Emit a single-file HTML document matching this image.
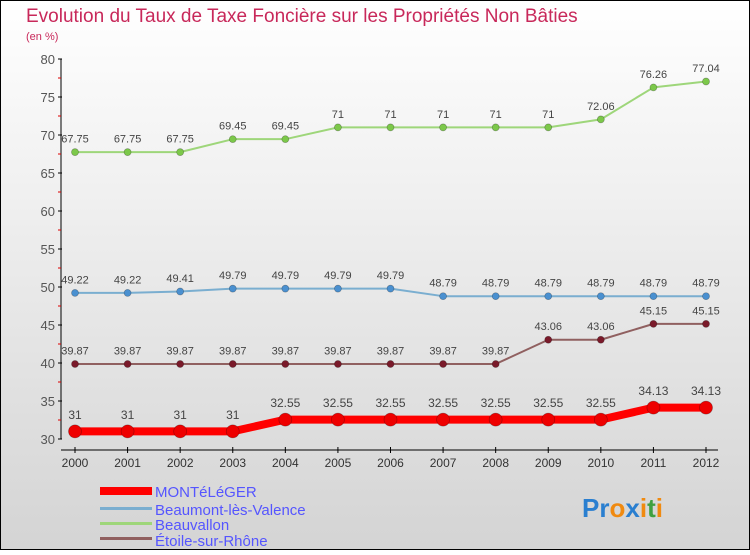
<!DOCTYPE html>
<html><head><meta charset="utf-8"><style>
html,body{margin:0;padding:0}
body{width:750px;height:550px;overflow:hidden;font-family:"Liberation Sans",sans-serif}
</style></head><body>
<svg width="750" height="550" xmlns="http://www.w3.org/2000/svg">
<defs><linearGradient id="bg" x1="0" y1="0" x2="0" y2="1"><stop offset="0" stop-color="#ffffff"/><stop offset="1" stop-color="#d4d4d4"/></linearGradient></defs>
<rect x="0.5" y="0.5" width="749" height="549" fill="url(#bg)" stroke="#000"/>
<text x="26" y="22" font-size="19" fill="#c8285a">Evolution du Taux de Taxe Foncière sur les Propriétés Non Bâties</text>
<text x="26" y="40" font-size="11" fill="#c8285a">(en %)</text>
<g id="axes"></g><g id="series"></g>
<g>
<rect x="100" y="487" width="52" height="8" fill="#ff0000"/><text x="155" y="497" font-size="15" fill="#5555ff">MONTéLéGER</text>
<rect x="100" y="507" width="52" height="3" fill="#7aaed0"/><text x="155" y="515" font-size="15" fill="#5555ff">Beaumont-lès-Valence</text>
<rect x="100" y="522" width="52" height="3" fill="#9ed67a"/><text x="155" y="530" font-size="15" fill="#5555ff">Beauvallon</text>
<rect x="100" y="537" width="52" height="3" fill="#906060"/><text x="155" y="546" font-size="15" fill="#5555ff">Étoile-sur-Rhône</text>
</g>
<g font-size="26" font-weight="bold">
<text x="582" y="517"><tspan fill="#2a7fd0">Pr</tspan><tspan fill="#f08a10">o</tspan><tspan fill="#2a7fd0">x</tspan><tspan fill="#f08a10">i</tspan><tspan fill="#40a040">t</tspan><tspan fill="#f08a10">i</tspan></text>
</g>
</svg>
<script>
const years=[2000,2001,2002,2003,2004,2005,2006,2007,2008,2009,2010,2011,2012];
const yTicks=[30,35,40,45,50,55,60,65,70,75,80];
const montelegerVals=[31,31,31,31,32.55,32.55,32.55,32.55,32.55,32.55,32.55,34.13,34.13];
const beaumontVals=[49.22,49.22,49.41,49.79,49.79,49.79,49.79,48.79,48.79,48.79,48.79,48.79,48.79];
const beauvallonVals=[67.75,67.75,67.75,69.45,69.45,71,71,71,71,71,72.06,76.26,77.04];
const etoileVals=[39.87,39.87,39.87,39.87,39.87,39.87,39.87,39.87,39.87,43.06,43.06,45.15,45.15];
const NS="http://www.w3.org/2000/svg";
const x=i=>75+i*(706-75)/12;
const y=v=>439-(v-30)*(380/50);
function mk(t,a,p){const e=document.createElementNS(NS,t);for(const k in a)e.setAttribute(k,a[k]);p.appendChild(e);return e;}
const ax=document.getElementById('axes');
mk('line',{x1:61,y1:y(80),x2:61,y2:y(30),stroke:'#000'},ax);
mk('line',{x1:61,y1:450,x2:718,y2:450,stroke:'#000'},ax);
yTicks.forEach(v=>{mk('line',{x1:58,y1:y(v),x2:62,y2:y(v),stroke:'#000'},ax);
 if(v<80)mk('line',{x1:58,y1:y(v+2.5),x2:61,y2:y(v+2.5),stroke:'#d00'},ax);
 const t=mk('text',{x:55,y:y(v)+5,'text-anchor':'end','font-size':13,fill:'#555'},ax);t.textContent=v;
 });
years.forEach((yr,i)=>{mk('line',{x1:x(i),y1:447,x2:x(i),y2:453,stroke:'#000'},ax);
 const t=mk('text',{x:x(i),y:467,'text-anchor':'middle','font-size':12,fill:'#333'},ax);t.textContent=yr;
 });
const sg=document.getElementById('series');
function series(vals,name,col,dot,w,r,fs){
 const g=mk('g',{},sg);
 mk('polyline',{points:vals.map((v,i)=>x(i)+','+y(v)).join(' '),fill:'none',stroke:col,'stroke-width':w,'stroke-linejoin':'round'},g);
 vals.forEach((v,i)=>{const c=mk('circle',{cx:x(i),cy:y(v),r:r,fill:dot,stroke:'rgba(0,0,0,0.3)','stroke-width':0.7},g);
  
  const t=mk('text',{x:x(i),y:y(v)-(r+6),'text-anchor':'middle','font-size':fs,fill:'#444'},g);t.textContent=v;
  });
}
series(beauvallonVals,'beauvallon-series','#9ed67a','#7cc84a',2,3.5,11);
series(beaumontVals,'beaumont-series','#7aaed0','#4a90d0',2,3.5,11);
series(etoileVals,'etoile-series','#906060','#7a1a2a',2,3.5,11);
series(montelegerVals,'monteleger-series','#ff0000','#ee0000',8,6.5,12);
</script>
</body></html>
